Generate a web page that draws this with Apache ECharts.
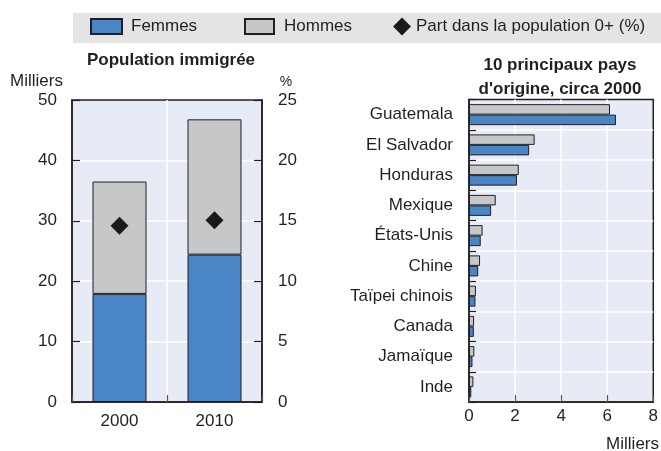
<!DOCTYPE html>
<html>
<head>
<meta charset="utf-8">
<script src="https://cdn.jsdelivr.net/npm/echarts@6/dist/echarts.min.js"></script>
<style>
  html, body { margin: 0; padding: 0; background: #ffffff; }
  #chart { width: 661px; height: 451px; }
</style>
</head>
<body>
<div id="chart"></div>
<script>
// Immigrant population by sex (thousands) and share of total population (%)
const years = ['2000', '2010'];
const femmesTotal = [17.9, 24.4];
const hommesTotal = [18.6, 22.4];
const partPct = [14.6, 15.05];

// Top 10 countries of origin, circa 2000 (thousands)
const countries = ['Guatemala', 'El Salvador', 'Honduras', 'Mexique', 'États-Unis',
                   'Chine', 'Taïpei chinois', 'Canada', 'Jamaïque', 'Inde'];
const hommesPays = [6.12, 2.85, 2.16, 1.16, 0.59, 0.48, 0.30, 0.22, 0.23, 0.19];
const femmesPays = [6.38, 2.61, 2.08, 0.96, 0.51, 0.40, 0.28, 0.21, 0.15, 0.10];

// Axis tick values
const milliersTicks = [0, 10, 20, 30, 40, 50];
const pctTicks = [0, 5, 10, 15, 20, 25];
const paysTicks = [0, 2, 4, 6, 8];

const FONT = "'Liberation Sans', Arial, sans-serif";
const INK = '#231F20';
const BLUE = '#4A86C6';
const GRAY = '#C6C7C9';
const PLOT_BG = '#E7EBF6';
const LABEL_SIZE = 17;

function rangeOf(ticks) {
  return { min: ticks[0], max: ticks[ticks.length - 1], interval: ticks[1] - ticks[0] };
}

const axisText = { color: INK, fontSize: LABEL_SIZE, fontFamily: FONT };
const frameLine = { show: true, lineStyle: { color: INK, width: 1.5 } };
const whiteSplit = { show: true, showMinLine: false, showMaxLine: false,
                     lineStyle: { color: '#ffffff', width: 1.5 } };
const legendText = { color: INK, fontSize: LABEL_SIZE, fontFamily: FONT };

const chart = echarts.init(document.getElementById('chart'), null, { renderer: 'canvas' });

chart.setOption({
  animation: false,
  textStyle: { fontFamily: FONT },
  grid: [
    { left: 72, top: 100, width: 190, height: 302, show: true,
      backgroundColor: PLOT_BG, borderColor: INK, borderWidth: 1.5, containLabel: false },
    { left: 469, top: 99.5, width: 190, height: 302.5, show: true,
      backgroundColor: PLOT_BG, borderColor: INK, borderWidth: 1.5, containLabel: false }
  ],
  xAxis: [
    { gridIndex: 0, type: 'category', data: years,
      axisLine: frameLine,
      axisTick: { show: true, inside: true, length: 7, lineStyle: { color: '#555555', width: 1.2 } },
      axisLabel: Object.assign({ margin: 11 }, axisText),
      splitLine: whiteSplit },
    Object.assign({ gridIndex: 1, type: 'value',
      axisLine: frameLine,
      axisTick: { show: true, inside: true, length: 7, lineStyle: { color: '#555555', width: 1.2 } },
      axisLabel: Object.assign({ margin: 6 }, axisText),
      splitLine: whiteSplit }, rangeOf(paysTicks))
  ],
  yAxis: [
    Object.assign({ gridIndex: 0, type: 'value', position: 'left',
      axisLine: frameLine,
      axisTick: { show: true, inside: true, length: 8, lineStyle: { color: INK, width: 1.2 } },
      axisLabel: Object.assign({ margin: 15 }, axisText),
      splitLine: whiteSplit }, rangeOf(milliersTicks)),
    Object.assign({ gridIndex: 0, type: 'value', position: 'right',
      axisLine: frameLine,
      axisTick: { show: true, inside: true, length: 8, lineStyle: { color: INK, width: 1.2 } },
      axisLabel: Object.assign({ margin: 16 }, axisText),
      splitLine: { show: false } }, rangeOf(pctTicks)),
    { gridIndex: 1, type: 'category', data: countries, inverse: true,
      axisLine: frameLine,
      axisTick: { show: true, inside: true, length: 7, lineStyle: { color: INK, width: 1.2 } },
      axisLabel: Object.assign({ margin: 16 }, axisText),
      splitLine: whiteSplit }
  ],
  legend: [
    { data: [{ name: 'Femmes', icon: 'rect' }], left: 90, top: 18, padding: 0,
      itemWidth: 31, itemHeight: 15,
      textStyle: Object.assign({ padding: [0, 0, 0, 4] }, legendText) },
    { data: [{ name: 'Hommes', icon: 'rect' }], left: 244, top: 18, padding: 0,
      itemWidth: 29, itemHeight: 15,
      textStyle: Object.assign({ padding: [0, 0, 0, 5] }, legendText) },
    { data: [{ name: 'Part dans la population 0+ (%)', icon: 'diamond' }], left: 393, top: 17.5,
      padding: 0, itemWidth: 18, itemHeight: 18, textStyle: legendText }
  ],
  graphic: [
    { type: 'rect', z: -10, silent: true, shape: { x: 73, y: 13, width: 588, height: 30 },
      style: { fill: '#E4E4E4' } },
    { type: 'text', x: 171, y: 52, silent: true,
      style: { text: 'Population immigrée', font: 'bold 17px ' + FONT, fill: INK, align: 'center', verticalAlign: 'top' } },
    { type: 'text', x: 560, y: 53, silent: true,
      style: { text: "10 principaux pays\nd'origine, circa 2000", font: 'bold 17px ' + FONT,
               lineHeight: 24, fill: INK, align: 'center', verticalAlign: 'top' } },
    { type: 'text', x: 10, y: 73, silent: true,
      style: { text: 'Milliers', font: '17px ' + FONT, fill: INK, align: 'left', verticalAlign: 'top' } },
    { type: 'text', x: 286, y: 75, silent: true,
      style: { text: '%', font: '14px ' + FONT, fill: INK, align: 'center', verticalAlign: 'top' } },
    { type: 'text', x: 659, y: 436, silent: true,
      style: { text: 'Milliers', font: '17px ' + FONT, fill: INK, align: 'right', verticalAlign: 'top' } }
  ],
  series: [
    { name: 'Femmes', type: 'bar', xAxisIndex: 0, yAxisIndex: 0, stack: 'pop',
      data: femmesTotal, barWidth: 54,
      itemStyle: { color: BLUE, borderColor: INK, borderWidth: 1 } },
    { name: 'Hommes', type: 'bar', xAxisIndex: 0, yAxisIndex: 0, stack: 'pop',
      data: hommesTotal, barWidth: 54,
      itemStyle: { color: GRAY, borderColor: INK, borderWidth: 1 } },
    { name: 'Part dans la population 0+ (%)', type: 'scatter', xAxisIndex: 0, yAxisIndex: 1,
      data: partPct, symbol: 'diamond', symbolSize: 18, z: 5,
      itemStyle: { color: '#1A1A1A', opacity: 1 } },
    { name: 'Hommes', type: 'bar', xAxisIndex: 1, yAxisIndex: 2,
      data: hommesPays, barWidth: 10.5, barGap: '0%',
      itemStyle: { color: GRAY, borderColor: INK, borderWidth: 1 } },
    { name: 'Femmes', type: 'bar', xAxisIndex: 1, yAxisIndex: 2,
      data: femmesPays, barWidth: 10.5, barGap: '0%',
      itemStyle: { color: BLUE, borderColor: INK, borderWidth: 1 } }
  ]
});
</script>
</body>
</html>
